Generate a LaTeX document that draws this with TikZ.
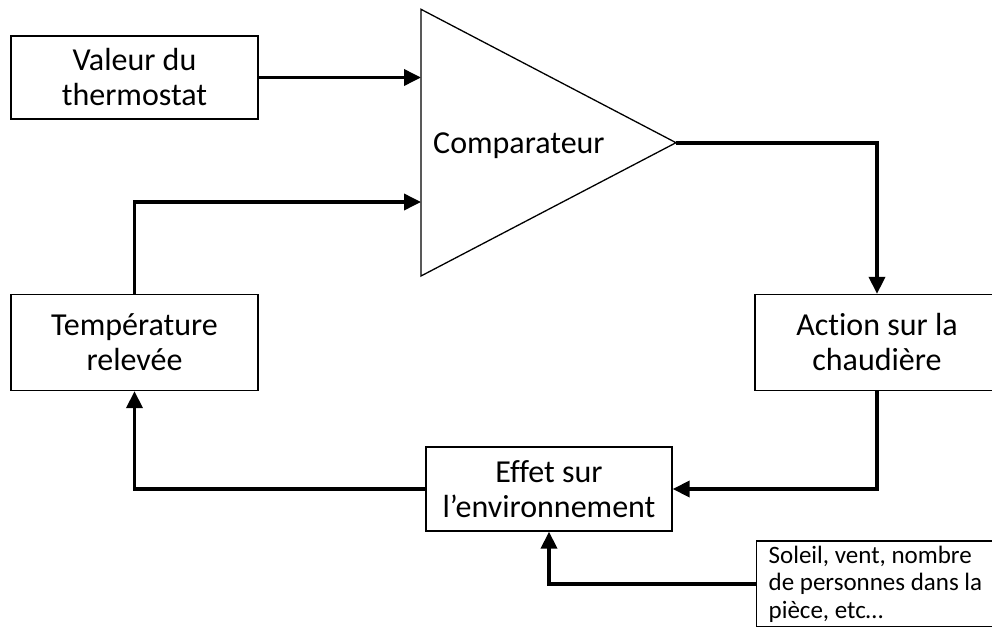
\documentclass[tikz,border=0pt]{standalone}
\usepackage{fontspec}
\setmainfont{Carlito}[Ligatures=CommonOff]
\usetikzlibrary{arrows.meta}
\begin{document}
\begin{tikzpicture}[x=1pt,y=-1pt,
  block/.style={draw=black, line width=1.3pt, rectangle, inner sep=0pt,
    align=center, font=\fontsize{32}{35}\selectfont},
  flow/.style={line width=3.6pt, -{Triangle[length=17pt,width=16pt]}},
  note/.style={draw=black, line width=1.3pt, rectangle, inner xsep=12pt, inner ysep=0pt,
    align=flush left, font=\fontsize{25}{27.5}\selectfont}]
  \useasboundingbox (0,0) rectangle (992,626);
  \clip (0,0) rectangle (992,626);
  % blocks of the control loop
  \node[block, minimum width=247pt, minimum height=83pt] (valeur) at (134.5,77.5) {Valeur du\\thermostat};
  \node[block, minimum width=247pt, minimum height=96pt] (temp) at (134.5,342.5) {Température\\relevée};
  \node[block, minimum width=244pt, minimum height=96pt] (action) at (877,342.5) {Action sur la\\chaudière};
  \node[block, minimum width=246pt, minimum height=84pt] (effet) at (549,489) {Effet sur\\l’environnement};
  \node[note, anchor=west, minimum height=86pt, text width=236pt] (soleil) at (756,584)
        {Soleil, vent, nombre\\de personnes dans la\\pièce, etc…};
  % comparator triangle
  \coordinate (ctop) at (421,9.3);
  \coordinate (cbot) at (421,276);
  \coordinate (apex) at (676,142.7);
  \coordinate (in2) at (421,202);
  \draw[line width=1.3pt, line join=miter] (ctop) -- (apex) -- (cbot) -- cycle;
  \node[anchor=base west, inner sep=0pt, font=\fontsize{32}{35}\selectfont] (comp) at (433,153) {Comparateur};
  % connectors
  \draw[flow] (valeur.east) -- (valeur.east -| ctop);
  \draw[flow] (temp.north) |- (in2);
  \draw[flow] (apex) -| (action.north);
  \draw[flow] (action.south) |- (effet.east);
  \draw[flow] (effet.west) -| (temp.south);
  \draw[flow] (soleil.west) -| (effet.south);
\end{tikzpicture}
\end{document}
